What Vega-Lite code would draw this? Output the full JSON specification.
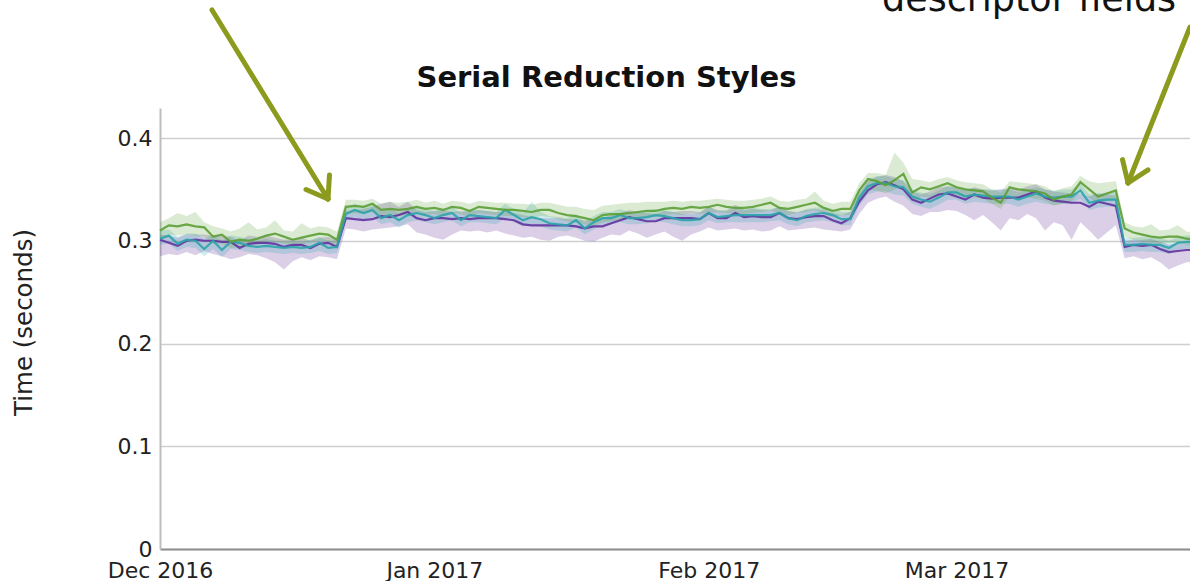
{
  "$schema": "https://vega.github.io/schema/vega-lite/v6.json",
  "autosize": {"type": "none"},
  "padding": {"left": 160, "top": 108, "right": 0, "bottom": 32},
  "width": 1030,
  "height": 441,
  "background": "white",
  "view": {"stroke": null},
  "config": {"font": "DejaVu Sans"},
  "datasets": {
    "runs": [
      {"d":"2016-12-01","g":0.310,"gl":0.302,"gh":0.318,"t":0.302,"tl":0.296,"th":0.310,"p":0.301,"pl":0.285,"ph":0.306},
      {"d":"2016-12-02","g":0.315,"gl":0.306,"gh":0.322,"t":0.305,"tl":0.297,"th":0.311,"p":0.298,"pl":0.287,"ph":0.305},
      {"d":"2016-12-03","g":0.314,"gl":0.305,"gh":0.327,"t":0.297,"tl":0.290,"th":0.304,"p":0.295,"pl":0.286,"ph":0.303},
      {"d":"2016-12-04","g":0.316,"gl":0.306,"gh":0.324,"t":0.301,"tl":0.294,"th":0.307,"p":0.300,"pl":0.289,"ph":0.306},
      {"d":"2016-12-05","g":0.314,"gl":0.305,"gh":0.328,"t":0.300,"tl":0.293,"th":0.307,"p":0.301,"pl":0.286,"ph":0.306},
      {"d":"2016-12-06","g":0.313,"gl":0.304,"gh":0.318,"t":0.292,"tl":0.285,"th":0.302,"p":0.300,"pl":0.290,"ph":0.306},
      {"d":"2016-12-07","g":0.304,"gl":0.297,"gh":0.314,"t":0.300,"tl":0.292,"th":0.306,"p":0.300,"pl":0.287,"ph":0.305},
      {"d":"2016-12-08","g":0.306,"gl":0.297,"gh":0.312,"t":0.291,"tl":0.284,"th":0.300,"p":0.299,"pl":0.285,"ph":0.305},
      {"d":"2016-12-09","g":0.299,"gl":0.293,"gh":0.309,"t":0.299,"tl":0.292,"th":0.305,"p":0.299,"pl":0.282,"ph":0.304},
      {"d":"2016-12-10","g":0.301,"gl":0.294,"gh":0.312,"t":0.298,"tl":0.291,"th":0.304,"p":0.293,"pl":0.284,"ph":0.300},
      {"d":"2016-12-11","g":0.300,"gl":0.294,"gh":0.318,"t":0.295,"tl":0.289,"th":0.302,"p":0.297,"pl":0.287,"ph":0.305},
      {"d":"2016-12-12","g":0.302,"gl":0.296,"gh":0.311,"t":0.294,"tl":0.288,"th":0.300,"p":0.298,"pl":0.286,"ph":0.304},
      {"d":"2016-12-13","g":0.305,"gl":0.298,"gh":0.313,"t":0.295,"tl":0.289,"th":0.302,"p":0.298,"pl":0.283,"ph":0.305},
      {"d":"2016-12-14","g":0.307,"gl":0.299,"gh":0.320,"t":0.294,"tl":0.288,"th":0.300,"p":0.297,"pl":0.279,"ph":0.303},
      {"d":"2016-12-15","g":0.304,"gl":0.297,"gh":0.310,"t":0.293,"tl":0.287,"th":0.299,"p":0.294,"pl":0.272,"ph":0.301},
      {"d":"2016-12-16","g":0.301,"gl":0.295,"gh":0.309,"t":0.294,"tl":0.288,"th":0.300,"p":0.296,"pl":0.280,"ph":0.302},
      {"d":"2016-12-17","g":0.303,"gl":0.296,"gh":0.317,"t":0.293,"tl":0.287,"th":0.299,"p":0.296,"pl":0.284,"ph":0.303},
      {"d":"2016-12-18","g":0.305,"gl":0.298,"gh":0.312,"t":0.294,"tl":0.288,"th":0.301,"p":0.293,"pl":0.281,"ph":0.300},
      {"d":"2016-12-19","g":0.307,"gl":0.300,"gh":0.314,"t":0.298,"tl":0.290,"th":0.304,"p":0.297,"pl":0.285,"ph":0.303},
      {"d":"2016-12-20","g":0.306,"gl":0.299,"gh":0.313,"t":0.293,"tl":0.287,"th":0.300,"p":0.298,"pl":0.284,"ph":0.304},
      {"d":"2016-12-21","g":0.301,"gl":0.295,"gh":0.309,"t":0.294,"tl":0.288,"th":0.300,"p":0.294,"pl":0.282,"ph":0.301},
      {"d":"2016-12-22","g":0.333,"gl":0.326,"gh":0.340,"t":0.326,"tl":0.320,"th":0.332,"p":0.322,"pl":0.312,"ph":0.329},
      {"d":"2016-12-23","g":0.334,"gl":0.327,"gh":0.340,"t":0.330,"tl":0.323,"th":0.336,"p":0.321,"pl":0.311,"ph":0.330},
      {"d":"2016-12-24","g":0.333,"gl":0.326,"gh":0.339,"t":0.327,"tl":0.320,"th":0.333,"p":0.320,"pl":0.309,"ph":0.331},
      {"d":"2016-12-25","g":0.336,"gl":0.328,"gh":0.341,"t":0.330,"tl":0.323,"th":0.336,"p":0.321,"pl":0.311,"ph":0.333},
      {"d":"2016-12-26","g":0.330,"gl":0.324,"gh":0.336,"t":0.322,"tl":0.316,"th":0.329,"p":0.324,"pl":0.312,"ph":0.336},
      {"d":"2016-12-27","g":0.331,"gl":0.325,"gh":0.338,"t":0.325,"tl":0.318,"th":0.331,"p":0.323,"pl":0.313,"ph":0.338},
      {"d":"2016-12-28","g":0.330,"gl":0.324,"gh":0.337,"t":0.320,"tl":0.313,"th":0.327,"p":0.325,"pl":0.314,"ph":0.333},
      {"d":"2016-12-29","g":0.331,"gl":0.325,"gh":0.338,"t":0.325,"tl":0.318,"th":0.331,"p":0.328,"pl":0.316,"ph":0.338},
      {"d":"2016-12-30","g":0.333,"gl":0.326,"gh":0.340,"t":0.327,"tl":0.320,"th":0.334,"p":0.322,"pl":0.308,"ph":0.330},
      {"d":"2016-12-31","g":0.331,"gl":0.325,"gh":0.337,"t":0.325,"tl":0.318,"th":0.331,"p":0.320,"pl":0.306,"ph":0.328},
      {"d":"2017-01-01","g":0.332,"gl":0.326,"gh":0.339,"t":0.322,"tl":0.316,"th":0.329,"p":0.322,"pl":0.303,"ph":0.329},
      {"d":"2017-01-02","g":0.330,"gl":0.324,"gh":0.336,"t":0.325,"tl":0.318,"th":0.331,"p":0.322,"pl":0.301,"ph":0.330},
      {"d":"2017-01-03","g":0.333,"gl":0.327,"gh":0.339,"t":0.327,"tl":0.320,"th":0.333,"p":0.321,"pl":0.306,"ph":0.328},
      {"d":"2017-01-04","g":0.332,"gl":0.326,"gh":0.338,"t":0.320,"tl":0.314,"th":0.327,"p":0.322,"pl":0.310,"ph":0.329},
      {"d":"2017-01-05","g":0.329,"gl":0.323,"gh":0.336,"t":0.325,"tl":0.318,"th":0.331,"p":0.321,"pl":0.309,"ph":0.328},
      {"d":"2017-01-06","g":0.333,"gl":0.327,"gh":0.339,"t":0.324,"tl":0.318,"th":0.330,"p":0.322,"pl":0.310,"ph":0.330},
      {"d":"2017-01-07","g":0.332,"gl":0.326,"gh":0.338,"t":0.323,"tl":0.317,"th":0.329,"p":0.322,"pl":0.308,"ph":0.329},
      {"d":"2017-01-08","g":0.331,"gl":0.325,"gh":0.337,"t":0.322,"tl":0.316,"th":0.328,"p":0.322,"pl":0.310,"ph":0.328},
      {"d":"2017-01-09","g":0.330,"gl":0.324,"gh":0.337,"t":0.330,"tl":0.322,"th":0.336,"p":0.321,"pl":0.307,"ph":0.328},
      {"d":"2017-01-10","g":0.330,"gl":0.324,"gh":0.336,"t":0.325,"tl":0.318,"th":0.331,"p":0.320,"pl":0.305,"ph":0.327},
      {"d":"2017-01-11","g":0.329,"gl":0.323,"gh":0.336,"t":0.320,"tl":0.314,"th":0.327,"p":0.316,"pl":0.303,"ph":0.325},
      {"d":"2017-01-12","g":0.328,"gl":0.322,"gh":0.335,"t":0.323,"tl":0.316,"th":0.338,"p":0.315,"pl":0.304,"ph":0.323},
      {"d":"2017-01-13","g":0.330,"gl":0.324,"gh":0.337,"t":0.321,"tl":0.314,"th":0.328,"p":0.315,"pl":0.301,"ph":0.322},
      {"d":"2017-01-14","g":0.330,"gl":0.323,"gh":0.337,"t":0.317,"tl":0.311,"th":0.324,"p":0.315,"pl":0.300,"ph":0.322},
      {"d":"2017-01-15","g":0.327,"gl":0.321,"gh":0.335,"t":0.316,"tl":0.310,"th":0.323,"p":0.315,"pl":0.304,"ph":0.322},
      {"d":"2017-01-16","g":0.325,"gl":0.319,"gh":0.333,"t":0.315,"tl":0.309,"th":0.322,"p":0.315,"pl":0.305,"ph":0.321},
      {"d":"2017-01-17","g":0.324,"gl":0.318,"gh":0.333,"t":0.320,"tl":0.313,"th":0.326,"p":0.314,"pl":0.303,"ph":0.321},
      {"d":"2017-01-18","g":0.322,"gl":0.316,"gh":0.331,"t":0.312,"tl":0.306,"th":0.318,"p":0.312,"pl":0.300,"ph":0.320},
      {"d":"2017-01-19","g":0.320,"gl":0.314,"gh":0.330,"t":0.318,"tl":0.311,"th":0.324,"p":0.314,"pl":0.299,"ph":0.321},
      {"d":"2017-01-20","g":0.325,"gl":0.318,"gh":0.334,"t":0.322,"tl":0.315,"th":0.328,"p":0.314,"pl":0.303,"ph":0.322},
      {"d":"2017-01-21","g":0.326,"gl":0.319,"gh":0.335,"t":0.322,"tl":0.316,"th":0.328,"p":0.317,"pl":0.306,"ph":0.325},
      {"d":"2017-01-22","g":0.326,"gl":0.320,"gh":0.336,"t":0.325,"tl":0.318,"th":0.331,"p":0.320,"pl":0.305,"ph":0.327},
      {"d":"2017-01-23","g":0.327,"gl":0.321,"gh":0.337,"t":0.322,"tl":0.316,"th":0.328,"p":0.323,"pl":0.310,"ph":0.330},
      {"d":"2017-01-24","g":0.328,"gl":0.322,"gh":0.337,"t":0.322,"tl":0.316,"th":0.328,"p":0.321,"pl":0.307,"ph":0.328},
      {"d":"2017-01-25","g":0.329,"gl":0.323,"gh":0.338,"t":0.323,"tl":0.317,"th":0.329,"p":0.319,"pl":0.303,"ph":0.327},
      {"d":"2017-01-26","g":0.329,"gl":0.323,"gh":0.338,"t":0.325,"tl":0.319,"th":0.331,"p":0.319,"pl":0.306,"ph":0.326},
      {"d":"2017-01-27","g":0.331,"gl":0.325,"gh":0.338,"t":0.324,"tl":0.318,"th":0.330,"p":0.322,"pl":0.309,"ph":0.329},
      {"d":"2017-01-28","g":0.332,"gl":0.326,"gh":0.339,"t":0.322,"tl":0.316,"th":0.328,"p":0.322,"pl":0.304,"ph":0.328},
      {"d":"2017-01-29","g":0.331,"gl":0.325,"gh":0.338,"t":0.320,"tl":0.314,"th":0.326,"p":0.322,"pl":0.300,"ph":0.329},
      {"d":"2017-01-30","g":0.333,"gl":0.327,"gh":0.339,"t":0.320,"tl":0.314,"th":0.326,"p":0.322,"pl":0.306,"ph":0.329},
      {"d":"2017-01-31","g":0.332,"gl":0.326,"gh":0.339,"t":0.321,"tl":0.315,"th":0.327,"p":0.321,"pl":0.309,"ph":0.328},
      {"d":"2017-02-01","g":0.333,"gl":0.327,"gh":0.340,"t":0.327,"tl":0.320,"th":0.333,"p":0.327,"pl":0.313,"ph":0.333},
      {"d":"2017-02-02","g":0.335,"gl":0.328,"gh":0.341,"t":0.323,"tl":0.317,"th":0.329,"p":0.322,"pl":0.310,"ph":0.330},
      {"d":"2017-02-03","g":0.333,"gl":0.327,"gh":0.340,"t":0.324,"tl":0.318,"th":0.330,"p":0.322,"pl":0.311,"ph":0.329},
      {"d":"2017-02-04","g":0.332,"gl":0.326,"gh":0.339,"t":0.325,"tl":0.318,"th":0.331,"p":0.327,"pl":0.312,"ph":0.335},
      {"d":"2017-02-05","g":0.332,"gl":0.326,"gh":0.339,"t":0.325,"tl":0.318,"th":0.331,"p":0.323,"pl":0.310,"ph":0.330},
      {"d":"2017-02-06","g":0.333,"gl":0.327,"gh":0.340,"t":0.325,"tl":0.318,"th":0.332,"p":0.324,"pl":0.311,"ph":0.331},
      {"d":"2017-02-07","g":0.335,"gl":0.328,"gh":0.341,"t":0.325,"tl":0.318,"th":0.331,"p":0.323,"pl":0.309,"ph":0.330},
      {"d":"2017-02-08","g":0.337,"gl":0.330,"gh":0.343,"t":0.325,"tl":0.319,"th":0.331,"p":0.323,"pl":0.310,"ph":0.330},
      {"d":"2017-02-09","g":0.332,"gl":0.326,"gh":0.339,"t":0.327,"tl":0.320,"th":0.333,"p":0.327,"pl":0.314,"ph":0.333},
      {"d":"2017-02-10","g":0.331,"gl":0.325,"gh":0.338,"t":0.322,"tl":0.316,"th":0.329,"p":0.322,"pl":0.310,"ph":0.329},
      {"d":"2017-02-11","g":0.333,"gl":0.327,"gh":0.340,"t":0.320,"tl":0.314,"th":0.327,"p":0.321,"pl":0.311,"ph":0.328},
      {"d":"2017-02-12","g":0.335,"gl":0.328,"gh":0.341,"t":0.324,"tl":0.318,"th":0.331,"p":0.323,"pl":0.312,"ph":0.330},
      {"d":"2017-02-13","g":0.337,"gl":0.330,"gh":0.348,"t":0.326,"tl":0.319,"th":0.332,"p":0.324,"pl":0.313,"ph":0.331},
      {"d":"2017-02-14","g":0.332,"gl":0.326,"gh":0.339,"t":0.327,"tl":0.320,"th":0.333,"p":0.324,"pl":0.311,"ph":0.330},
      {"d":"2017-02-15","g":0.329,"gl":0.323,"gh":0.336,"t":0.325,"tl":0.318,"th":0.331,"p":0.320,"pl":0.310,"ph":0.327},
      {"d":"2017-02-16","g":0.331,"gl":0.325,"gh":0.338,"t":0.321,"tl":0.315,"th":0.328,"p":0.317,"pl":0.309,"ph":0.325},
      {"d":"2017-02-17","g":0.331,"gl":0.325,"gh":0.338,"t":0.321,"tl":0.315,"th":0.328,"p":0.322,"pl":0.311,"ph":0.328},
      {"d":"2017-02-18","g":0.349,"gl":0.340,"gh":0.356,"t":0.342,"tl":0.334,"th":0.350,"p":0.338,"pl":0.326,"ph":0.346},
      {"d":"2017-02-19","g":0.360,"gl":0.350,"gh":0.366,"t":0.353,"tl":0.345,"th":0.360,"p":0.349,"pl":0.337,"ph":0.358},
      {"d":"2017-02-20","g":0.358,"gl":0.349,"gh":0.366,"t":0.356,"tl":0.348,"th":0.363,"p":0.355,"pl":0.341,"ph":0.362},
      {"d":"2017-02-21","g":0.354,"gl":0.346,"gh":0.364,"t":0.356,"tl":0.348,"th":0.363,"p":0.357,"pl":0.343,"ph":0.364},
      {"d":"2017-02-22","g":0.359,"gl":0.350,"gh":0.386,"t":0.353,"tl":0.345,"th":0.360,"p":0.354,"pl":0.338,"ph":0.362},
      {"d":"2017-02-23","g":0.365,"gl":0.352,"gh":0.376,"t":0.352,"tl":0.344,"th":0.359,"p":0.350,"pl":0.334,"ph":0.358},
      {"d":"2017-02-24","g":0.347,"gl":0.339,"gh":0.360,"t":0.343,"tl":0.336,"th":0.350,"p":0.340,"pl":0.326,"ph":0.348},
      {"d":"2017-02-25","g":0.352,"gl":0.343,"gh":0.359,"t":0.340,"tl":0.333,"th":0.347,"p":0.337,"pl":0.324,"ph":0.345},
      {"d":"2017-02-26","g":0.350,"gl":0.342,"gh":0.357,"t":0.338,"tl":0.331,"th":0.345,"p":0.341,"pl":0.328,"ph":0.348},
      {"d":"2017-02-27","g":0.353,"gl":0.345,"gh":0.360,"t":0.342,"tl":0.335,"th":0.349,"p":0.345,"pl":0.328,"ph":0.352},
      {"d":"2017-02-28","g":0.356,"gl":0.348,"gh":0.362,"t":0.347,"tl":0.340,"th":0.353,"p":0.346,"pl":0.330,"ph":0.353},
      {"d":"2017-03-01","g":0.352,"gl":0.344,"gh":0.359,"t":0.347,"tl":0.340,"th":0.353,"p":0.343,"pl":0.329,"ph":0.351},
      {"d":"2017-03-02","g":0.350,"gl":0.343,"gh":0.357,"t":0.343,"tl":0.336,"th":0.350,"p":0.340,"pl":0.325,"ph":0.349},
      {"d":"2017-03-03","g":0.349,"gl":0.342,"gh":0.356,"t":0.345,"tl":0.338,"th":0.351,"p":0.345,"pl":0.320,"ph":0.352},
      {"d":"2017-03-04","g":0.348,"gl":0.341,"gh":0.355,"t":0.344,"tl":0.337,"th":0.350,"p":0.342,"pl":0.325,"ph":0.350},
      {"d":"2017-03-05","g":0.342,"gl":0.336,"gh":0.350,"t":0.343,"tl":0.336,"th":0.350,"p":0.341,"pl":0.318,"ph":0.349},
      {"d":"2017-03-06","g":0.337,"gl":0.331,"gh":0.347,"t":0.343,"tl":0.336,"th":0.350,"p":0.342,"pl":0.310,"ph":0.350},
      {"d":"2017-03-07","g":0.352,"gl":0.344,"gh":0.358,"t":0.343,"tl":0.336,"th":0.350,"p":0.342,"pl":0.322,"ph":0.351},
      {"d":"2017-03-08","g":0.350,"gl":0.343,"gh":0.357,"t":0.340,"tl":0.333,"th":0.347,"p":0.342,"pl":0.320,"ph":0.350},
      {"d":"2017-03-09","g":0.349,"gl":0.342,"gh":0.356,"t":0.343,"tl":0.336,"th":0.350,"p":0.345,"pl":0.326,"ph":0.353},
      {"d":"2017-03-10","g":0.348,"gl":0.341,"gh":0.355,"t":0.346,"tl":0.338,"th":0.352,"p":0.348,"pl":0.322,"ph":0.355},
      {"d":"2017-03-11","g":0.346,"gl":0.339,"gh":0.353,"t":0.343,"tl":0.336,"th":0.350,"p":0.342,"pl":0.310,"ph":0.350},
      {"d":"2017-03-12","g":0.340,"gl":0.334,"gh":0.348,"t":0.342,"tl":0.335,"th":0.349,"p":0.339,"pl":0.318,"ph":0.348},
      {"d":"2017-03-13","g":0.343,"gl":0.336,"gh":0.351,"t":0.343,"tl":0.336,"th":0.350,"p":0.338,"pl":0.315,"ph":0.347},
      {"d":"2017-03-14","g":0.345,"gl":0.338,"gh":0.353,"t":0.343,"tl":0.336,"th":0.350,"p":0.337,"pl":0.301,"ph":0.346},
      {"d":"2017-03-15","g":0.357,"gl":0.348,"gh":0.363,"t":0.349,"tl":0.341,"th":0.356,"p":0.337,"pl":0.318,"ph":0.346},
      {"d":"2017-03-16","g":0.350,"gl":0.342,"gh":0.358,"t":0.337,"tl":0.330,"th":0.345,"p":0.333,"pl":0.310,"ph":0.343},
      {"d":"2017-03-17","g":0.343,"gl":0.336,"gh":0.356,"t":0.339,"tl":0.332,"th":0.346,"p":0.338,"pl":0.301,"ph":0.346},
      {"d":"2017-03-18","g":0.346,"gl":0.339,"gh":0.357,"t":0.340,"tl":0.333,"th":0.347,"p":0.336,"pl":0.308,"ph":0.345},
      {"d":"2017-03-19","g":0.349,"gl":0.340,"gh":0.358,"t":0.340,"tl":0.333,"th":0.347,"p":0.334,"pl":0.315,"ph":0.344},
      {"d":"2017-03-20","g":0.312,"gl":0.304,"gh":0.318,"t":0.296,"tl":0.289,"th":0.303,"p":0.294,"pl":0.283,"ph":0.300},
      {"d":"2017-03-21","g":0.308,"gl":0.301,"gh":0.314,"t":0.296,"tl":0.289,"th":0.303,"p":0.296,"pl":0.285,"ph":0.301},
      {"d":"2017-03-22","g":0.306,"gl":0.299,"gh":0.313,"t":0.297,"tl":0.290,"th":0.304,"p":0.295,"pl":0.282,"ph":0.301},
      {"d":"2017-03-23","g":0.304,"gl":0.298,"gh":0.316,"t":0.296,"tl":0.289,"th":0.303,"p":0.296,"pl":0.284,"ph":0.302},
      {"d":"2017-03-24","g":0.303,"gl":0.297,"gh":0.310,"t":0.296,"tl":0.289,"th":0.303,"p":0.292,"pl":0.279,"ph":0.299},
      {"d":"2017-03-25","g":0.304,"gl":0.298,"gh":0.311,"t":0.293,"tl":0.287,"th":0.300,"p":0.289,"pl":0.272,"ph":0.296},
      {"d":"2017-03-26","g":0.304,"gl":0.298,"gh":0.315,"t":0.298,"tl":0.291,"th":0.304,"p":0.290,"pl":0.276,"ph":0.297},
      {"d":"2017-03-27","g":0.302,"gl":0.296,"gh":0.309,"t":0.299,"tl":0.292,"th":0.305,"p":0.291,"pl":0.279,"ph":0.298},
      {"d":"2017-03-28","g":0.301,"gl":0.295,"gh":0.308,"t":0.299,"tl":0.292,"th":0.305,"p":0.291,"pl":0.280,"ph":0.298}
    ],
    "arrows": [
      {"a":"2016-12-06T21:01:00Z","av":0.5246,"b":"2016-12-19T23:36:00Z","bv":0.3406},
      {"a":"2016-12-20T03:36:00Z","av":0.3640,"b":"2016-12-19T23:36:00Z","bv":0.3406},
      {"a":"2016-12-17T11:59:00Z","av":0.3499,"b":"2016-12-19T23:36:00Z","bv":0.3406},
      {"a":"2017-03-27T09:13:00Z","av":0.5080,"b":"2017-03-20T09:07:00Z","bv":0.3562},
      {"a":"2017-03-22T15:22:00Z","av":0.3689,"b":"2017-03-20T09:07:00Z","bv":0.3562},
      {"a":"2017-03-19T18:14:00Z","av":0.3790,"b":"2017-03-20T09:07:00Z","bv":0.3562}
    ],
    "notes": [
      {"at":"2017-02-20T14:00:00Z","v":0.5236,"label":"descriptor fields","size":36.5,"weight":"normal","align":"left"},
      {"at":"2017-01-20T10:50:00Z","v":0.4496,"label":"Serial Reduction Styles","size":29,"weight":"bold","align":"center"}
    ]
  },
  "encoding": {
    "x": {
      "field": "d",
      "type": "temporal",
      "scale": {
        "type": "utc",
        "domain": [
          {"year": 2016, "month": 12, "date": 1, "utc": true},
          {"year": 2017, "month": 3, "date": 27, "hours": 9, "minutes": 13, "utc": true}
        ]
      },
      "axis": {
        "title": null,
        "format": "%b %Y",
        "values": [
          {"year": 2016, "month": 12, "date": 1, "utc": true},
          {"year": 2017, "month": 1, "date": 1, "utc": true},
          {"year": 2017, "month": 2, "date": 1, "utc": true},
          {"year": 2017, "month": 3, "date": 1, "utc": true}
        ],
        "ticks": false,
        "grid": false,
        "domainColor": "#8f8f8f",
        "domainWidth": 2,
        "labelFont": "DejaVu Sans",
        "labelFontSize": 22,
        "labelColor": "#222222",
        "labelPadding": 11,
        "labelFlush": false,
        "labelOverlap": false
      }
    },
    "y": {
      "type": "quantitative",
      "scale": {"domain": [0, 0.4292], "nice": false, "zero": true},
      "axis": {
        "title": "Time (seconds)",
        "values": [0, 0.1, 0.2, 0.3, 0.4],
        "format": "~g",
        "ticks": false,
        "grid": true,
        "gridColor": "#cfcfcf",
        "gridWidth": 1.5,
        "domainColor": "#bdbdbd",
        "domainWidth": 2,
        "labelFont": "DejaVu Sans",
        "labelFontSize": 22,
        "labelColor": "#222222",
        "labelPadding": 8,
        "titleFont": "DejaVu Sans",
        "titleFontSize": 24.5,
        "titleFontWeight": "normal",
        "titleColor": "#222222",
        "titleX": -136,
        "titleY": 214,
        "titleAngle": 270,
        "titleAlign": "center",
        "titleBaseline": "middle"
      }
    }
  },
  "layer": [
    {
      "data": {"name": "runs"},
      "mark": {"type": "area", "color": "#6b3fa0", "opacity": 0.25},
      "encoding": {"y": {"field": "pl"}, "y2": {"field": "ph"}}
    },
    {
      "data": {"name": "runs"},
      "mark": {"type": "area", "color": "#2ba3ab", "opacity": 0.22},
      "encoding": {"y": {"field": "tl"}, "y2": {"field": "th"}}
    },
    {
      "data": {"name": "runs"},
      "mark": {"type": "area", "color": "#5c9e35", "opacity": 0.22},
      "encoding": {"y": {"field": "gl"}, "y2": {"field": "gh"}}
    },
    {
      "data": {"name": "runs"},
      "mark": {"type": "line", "color": "#6232a0", "strokeWidth": 2.2, "opacity": 0.9},
      "encoding": {"y": {"field": "p"}}
    },
    {
      "data": {"name": "runs"},
      "mark": {"type": "line", "color": "#2ba3ab", "strokeWidth": 2.2, "opacity": 0.9},
      "encoding": {"y": {"field": "t"}}
    },
    {
      "data": {"name": "runs"},
      "mark": {"type": "line", "color": "#5c9e35", "strokeWidth": 2.2, "opacity": 0.9},
      "encoding": {"y": {"field": "g"}}
    },
    {
      "data": {"name": "arrows"},
      "mark": {"type": "rule", "color": "#8c9a1e", "strokeWidth": 5, "strokeCap": "round"},
      "encoding": {
        "x": {"field": "a", "type": "temporal"},
        "x2": {"field": "b"},
        "y": {"field": "av", "type": "quantitative"},
        "y2": {"field": "bv"}
      }
    },
    {
      "data": {"name": "notes"},
      "transform": [{"filter": "datum.align === 'left'"}],
      "mark": {"type": "text", "align": "left", "baseline": "alphabetic", "font": "DejaVu Sans", "fontSize": 36.5, "color": "#111111"},
      "encoding": {
        "x": {"field": "at", "type": "temporal"},
        "y": {"field": "v", "type": "quantitative"},
        "text": {"field": "label"}
      }
    },
    {
      "data": {"name": "notes"},
      "transform": [{"filter": "datum.align === 'center'"}],
      "mark": {"type": "text", "align": "center", "baseline": "alphabetic", "font": "DejaVu Sans", "fontSize": 29, "fontWeight": "bold", "color": "#111111"},
      "encoding": {
        "x": {"field": "at", "type": "temporal"},
        "y": {"field": "v", "type": "quantitative"},
        "text": {"field": "label"}
      }
    }
  ]
}
